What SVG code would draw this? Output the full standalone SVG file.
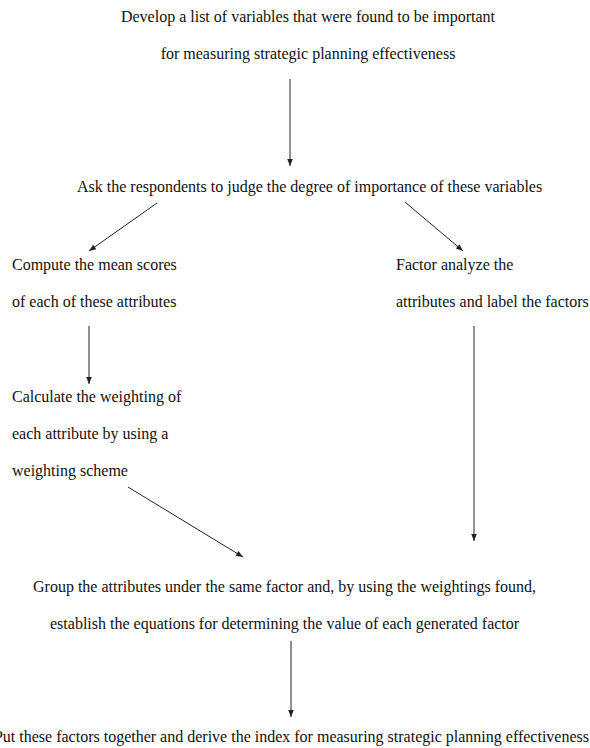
<svg xmlns="http://www.w3.org/2000/svg" width="590" height="748" viewBox="0 0 590 748">
<style>
text{font-family:"Liberation Serif","Times New Roman",serif;font-size:16px;fill:#111;}
.c{text-anchor:middle;}
.ln{stroke:#222;stroke-width:1;fill:none;}
</style>
<defs>
<marker id="ah" viewBox="0 0 10 10" refX="10" refY="5" markerWidth="8" markerHeight="7" markerUnits="userSpaceOnUse" orient="auto">
<path d="M0,1 L10,5 L0,9 Z" fill="#222"/>
</marker>
</defs>
<rect width="590" height="748" fill="#fff"/>
<g id="n1">
<text x="308" y="22" class="c">Develop a list of variables that were found to be important</text>
<text x="308" y="59" class="c">for measuring strategic planning effectiveness</text>
</g>
<g id="n2">
<text x="77" y="192">Ask the respondents to judge the degree of importance of these variables</text>
</g>
<g id="n3">
<text x="12" y="270">Compute the mean scores</text>
<text x="12" y="307">of each of these attributes</text>
</g>
<g id="n4">
<text x="396" y="270">Factor analyze the</text>
<text x="396" y="307">attributes and label the factors</text>
</g>
<g id="n5">
<text x="12" y="402">Calculate the weighting of</text>
<text x="12" y="439">each attribute by using a</text>
<text x="12" y="476">weighting scheme</text>
</g>
<g id="n6">
<text x="33" y="592">Group the attributes under the same factor and, by using the weightings found,</text>
<text x="50" y="629">establish the equations for determining the value of each generated factor</text>
</g>
<g id="n7">
<text x="589" y="742" text-anchor="end">Put these factors together and derive the index for measuring strategic planning effectiveness</text>
</g>
<g id="connectors">
<line class="ln" x1="290" y1="79" x2="290" y2="166" marker-end="url(#ah)"/>
<line class="ln" x1="157" y1="203" x2="89" y2="251" marker-end="url(#ah)"/>
<line class="ln" x1="405" y1="202" x2="463" y2="251" marker-end="url(#ah)"/>
<line class="ln" x1="89" y1="326" x2="89" y2="384" marker-end="url(#ah)"/>
<line class="ln" x1="128" y1="487" x2="243" y2="557" marker-end="url(#ah)"/>
<line class="ln" x1="474" y1="326" x2="474" y2="541" marker-end="url(#ah)"/>
<line class="ln" x1="291" y1="641" x2="291" y2="717" marker-end="url(#ah)"/>
</g>
</svg>
